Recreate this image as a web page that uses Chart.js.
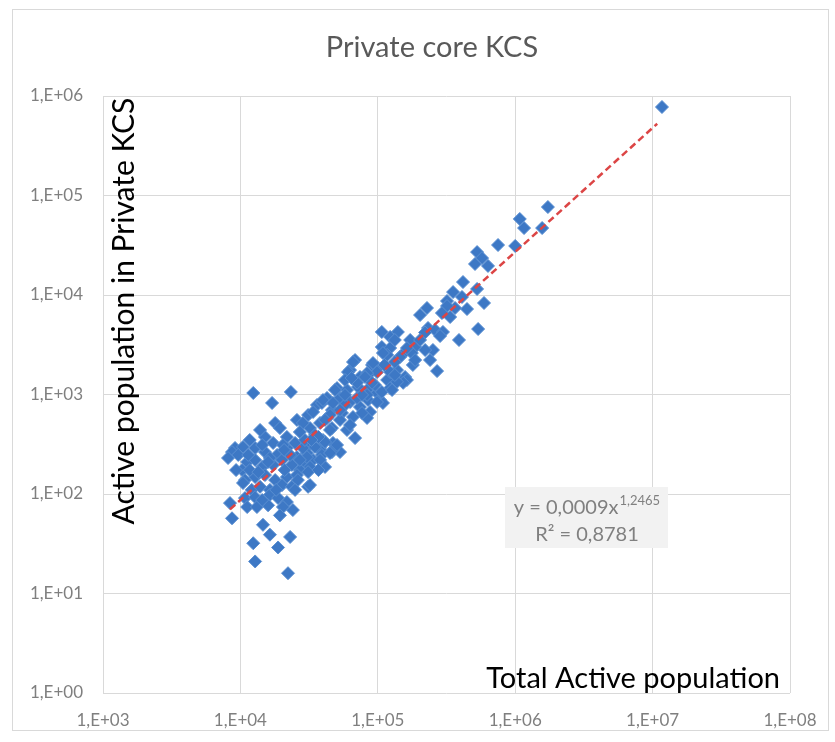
<!DOCTYPE html>
<html>
<head>
<meta charset="utf-8">
<script src="https://cdn.jsdelivr.net/npm/chart.js@4.4.1/dist/chart.umd.min.js"></script>
<style>
  html, body { margin: 0; padding: 0; background: #fff; }
  #wrap { width: 835px; height: 742px; }
</style>
</head>
<body>
<div id="wrap"><canvas id="chart" width="835" height="742"></canvas></div>
<script>
// Total active population (x) and active population in private KCS (y)
const totalActive = [
  11700000, 1730000, 1080000, 1160000, 1570000, 750000, 1000000, 528000, 574000, 510000,
  634000, 417000, 353000, 528000, 410000, 319000, 446000, 593000, 365000, 228000,
  203000, 319000, 293000, 336000, 232000, 261000, 221000, 298000, 537000, 284000,
  172000, 390000, 187000, 252000, 150000, 240000, 180000, 270000, 158000, 107000,
  140000, 123000, 68300, 62800, 107000, 123000, 117000, 145000, 90800, 100000,
  138000, 163000, 74200, 84900, 117000, 123000, 50500, 59700, 71800, 83500,
  98700, 104000, 84900, 74200, 62800, 53100, 42700, 36100, 46400, 54900,
  66000, 87800, 83500, 59700, 68300, 46400, 38000, 32100, 31100, 39900,
  47200, 38000, 46400, 53100, 30500, 28500, 33800, 41300, 66000, 60700,
  48800, 39200, 25800, 42700, 153000, 109000, 31100, 24100, 177000, 163000,
  109000, 92300, 98700, 83500, 123000, 138000, 70600, 80700, 107000, 127000,
  83500, 98700, 39900, 33800, 47200, 76800, 44900, 47200, 38000, 28500,
  30500, 12400, 23300, 17000, 17900, 19400, 15100, 21800, 17300, 12800,
  9140, 10450, 8690, 8130, 15100, 18500, 21800, 25000, 28500, 34900,
  41300, 50500, 25800, 30500, 39200, 44900, 11200, 10300, 12800, 14400,
  17300, 20100, 23700, 27100, 32100, 10800, 12800, 15100, 17900, 21800,
  25800, 31100, 32100, 10450, 12100, 13900, 16400, 20100, 23700, 26200,
  8400, 10800, 12800, 16400, 18800, 21800, 11200, 13200, 15900, 20400,
  8690, 14600, 16400, 23000, 12400, 18800, 12800, 22200, 13900, 11700,
  20400, 27100, 34900, 23000, 16400, 14400, 53100, 57700, 70600, 44900,
  37000, 29500, 21000, 38000, 25000, 19400, 9640, 11700, 95500, 112000,
  133000, 57700, 203000, 133000, 57700, 76800, 90800, 64500, 133000, 187000,
  221000, 53100, 41300, 32900, 20800, 15900, 13500, 11400, 9300, 18200,
  14400, 27100, 37000, 62800
];
const privateKcs = [
  775000, 76600, 58100, 47100, 47100, 31800, 31100, 27000, 23500, 20500,
  19600, 13500, 10700, 11500, 9550, 8700, 7230, 8310, 7400, 7400,
  6290, 7750, 6590, 6010, 4660, 4450, 4200, 4250, 4550, 3870,
  3530, 3530, 3000, 2800, 2500, 2220, 1980, 1720, 1500, 4250,
  4250, 3790, 2220, 1760, 3000, 2930, 2500, 2380, 1980, 1850,
  1760, 1400, 1500, 1570, 1400, 1160, 1160, 1110, 1190, 1110,
  1035, 880, 880, 748, 840, 923, 923, 784, 698, 652,
  594, 667, 581, 440, 365, 460, 517, 460, 622, 349,
  326, 290, 264, 264, 297, 205, 220, 187, 2120, 1680,
  1110, 822, 555, 581, 1310, 822, 118, 69, 2610, 2930,
  2610, 2070, 1680, 1640, 1680, 1340, 1310, 1500, 1060, 1110,
  990, 840, 880, 667, 822, 652, 440, 277, 277, 517,
  258, 1035, 1060, 822, 517, 460, 374, 374, 326, 290,
  290, 297, 264, 230, 264, 247, 290, 326, 290, 297,
  333, 311, 235, 235, 247, 258, 210, 174, 220, 187,
  196, 220, 196, 174, 187, 138, 148, 155, 138, 148,
  155, 166, 123, 129, 110, 118, 110, 123, 118, 138,
  81, 91, 93, 98, 91, 83, 74, 74, 77, 74,
  57, 49, 39, 37, 32, 29, 21, 16, 440, 349,
  311, 420, 392, 247, 230, 311, 555, 784, 923, 622,
  374, 349, 174, 220, 110, 61, 247, 174, 1245, 1980,
  2120, 1400, 3530, 3530, 990, 990, 1310, 1465, 1570, 2220,
  2800, 698, 555, 349, 277, 210, 166, 247, 174, 110,
  87, 220, 174, 493
];

// power trendline y = 0,0009x^1,2465, ends
const trendX = [8400, 10800000];
const trendY = [70, 526000];

const xTicks = [1e3, 1e4, 1e5, 1e6, 1e7, 1e8];
const xTickLabels = ['1,E+03', '1,E+04', '1,E+05', '1,E+06', '1,E+07', '1,E+08'];
const yTicks = [1, 10, 100, 1e3, 1e4, 1e5, 1e6];
const yTickLabels = ['1,E+00', '1,E+01', '1,E+02', '1,E+03', '1,E+04', '1,E+05', '1,E+06'];

const chartTitle = 'Private core KCS';
const xTitle = 'Total Active population';
const yTitle = 'Active population in Private KCS';
const eqMain = 'y = 0,0009x';
const eqExp = '1,2465';
const eqR2 = 'R² = 0,8781';

const FONT = "Lato, 'Liberation Sans', sans-serif";

const points = totalActive.map((x, i) => ({ x: x, y: privateKcs[i] }));
const trend = trendX.map((x, i) => ({ x: x, y: trendY[i] }));

// frame, title, axis titles inside the plot and the equation label
const overlay = {
    id: 'overlay',
    beforeDraw(chart) {
        const ctx = chart.ctx;
        ctx.save();
        ctx.fillStyle = '#ffffff';
        ctx.fillRect(0, 0, chart.width, chart.height);
        ctx.strokeStyle = '#d9d9d9';
        ctx.lineWidth = 1;
        ctx.strokeRect(12.5, 9.5, 816, 721);
        ctx.restore();
    },
    afterDraw(chart) {
        const ctx = chart.ctx;
        ctx.save();

        ctx.fillStyle = '#595959';
        ctx.font = '29px ' + FONT;
        ctx.textAlign = 'center';
        ctx.textBaseline = 'middle';
        ctx.fillText(chartTitle, 432, 48);

        ctx.fillStyle = '#000000';
        ctx.font = '29px ' + FONT;
        ctx.textBaseline = 'alphabetic';
        ctx.textAlign = 'right';
        ctx.fillText(xTitle, 780, 688);

        ctx.save();
        ctx.translate(134, 311);
        ctx.rotate(-Math.PI / 2);
        ctx.textAlign = 'center';
        ctx.font = '30px ' + FONT;
        ctx.fillText(yTitle, 0, 0);
        ctx.restore();

        // equation box
        ctx.fillStyle = '#f2f2f2';
        ctx.fillRect(505, 487, 163, 61);
        ctx.fillStyle = '#808080';
        ctx.textAlign = 'left';
        ctx.font = '20px ' + FONT;
        const w1 = ctx.measureText(eqMain).width;
        ctx.font = '13px ' + FONT;
        const w2 = ctx.measureText(eqExp).width;
        let x0 = 587 - (w1 + w2 + 1) / 2;
        ctx.font = '20px ' + FONT;
        ctx.fillText(eqMain, x0, 514);
        ctx.font = '13px ' + FONT;
        ctx.fillText(eqExp, x0 + w1 + 1, 505);
        ctx.font = '20px ' + FONT;
        ctx.textAlign = 'center';
        ctx.fillText(eqR2, 587, 541);

        ctx.restore();
    }
};

new Chart(document.getElementById('chart'), {
    data: {
        datasets: [
            {
                type: 'scatter',
                label: 'KCS',
                data: points,
                order: 2,
                pointStyle: 'rectRot',
                pointRadius: 6.5,
                backgroundColor: '#3d78c5',
                borderColor: '#5a8fd2',
                borderWidth: 1
            },
            {
                type: 'line',
                label: 'Trend',
                data: trend,
                order: 1,
                borderColor: '#dc4545',
                borderWidth: 2.5,
                borderDash: [7, 4],
                pointRadius: 0,
                fill: false
            }
        ]
    },
    options: {
        responsive: false,
        animation: false,
        devicePixelRatio: 1,
        layout: { padding: { left: 15, right: 45, top: 96, bottom: 0 } },
        plugins: {
            legend: { display: false },
            tooltip: { enabled: false },
            title: { display: false }
        },
        scales: {
            x: {
                type: 'logarithmic',
                min: 1e3,
                max: 1e8,
                afterBuildTicks: (s) => { s.ticks = xTicks.map(v => ({ value: v })); },
                afterFit: (s) => { s.height = 49; },
                grid: { color: '#d9d9d9', drawTicks: false },
                border: { display: false },
                ticks: {
                    color: '#7f7f7f',
                    font: { family: FONT, size: 17 },
                    padding: 17,
                    maxRotation: 0,
                    autoSkip: false,
                    callback: (v, i) => xTickLabels[i]
                }
            },
            y: {
                type: 'logarithmic',
                min: 1,
                max: 1e6,
                afterBuildTicks: (s) => { s.ticks = yTicks.map(v => ({ value: v })); },
                afterFit: (s) => { s.width = 88; },
                grid: { color: '#d9d9d9', drawTicks: false },
                border: { display: false },
                ticks: {
                    color: '#7f7f7f',
                    font: { family: FONT, size: 17 },
                    padding: 20,
                    autoSkip: false,
                    callback: (v, i) => yTickLabels[i]
                }
            }
        }
    },
    plugins: [overlay]
});
</script>
</body>
</html>
